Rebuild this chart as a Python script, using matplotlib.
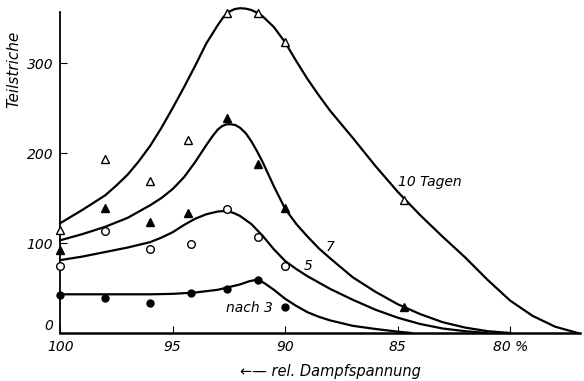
import numpy as np
import matplotlib
matplotlib.use("Agg")
import matplotlib.pyplot as plt

plt.rcParams["font.family"] = ["Liberation Sans Narrow", "DejaVu Sans"]
plt.rcParams["font.style"] = "italic"

# measured points (rel. vapour pressure in %, Teilstriche)
x_pts = [100, 98, 96, 94.3, 92.6, 91.2, 90.0, 84.7]
y_10 = [114, 193, 169, 214, 356, 356, 323, 148]
y_7 = [92, 139, 123, 133, 239, 188, 139, 29]
x_pts5 = [100, 98, 96, 94.2, 92.6, 91.2, 90.0]
y_5 = [74, 113, 93, 99, 138, 107, 74]
x_pts3 = [100, 98, 96, 94.2, 92.6, 91.2, 90.0]
y_3 = [42, 39, 33, 44, 49, 59, 29]

# hand-drawn curves through the points
cx_10 = [100, 99, 98, 97.5, 97, 96.5, 96, 95.5, 95, 94.5, 94, 93.5, 93, 92.75, 92.5, 92.25,
         92, 91.75, 91.5, 91.25, 91, 90.5, 90, 89.5, 89, 88.5, 88, 87, 86, 85, 84, 83,
         82, 81, 80, 79, 78, 77]
cy_10 = [122, 137, 153, 164, 176, 191, 208, 228, 250, 273, 297, 322, 342, 351, 357, 360,
         361, 360.5, 359, 356, 352, 340, 323, 302, 282, 264, 247, 217, 186, 157, 131, 107,
         84, 59, 36, 19, 7, 0]
cx_7 = [100, 99, 98, 97, 96, 95.5, 95, 94.5, 94, 93.5, 93.25, 93, 92.8, 92.6, 92.4, 92.2,
        92, 91.75, 91.5, 91.25, 91, 90.5, 90, 89.5, 89, 88.5, 88, 87, 86, 85, 84, 83,
        82, 81, 80]
cy_7 = [103, 110, 118, 128, 142, 150, 160, 173, 190, 209, 218, 226, 230, 232, 232, 231,
        228, 222, 213, 202, 190, 163, 138, 121, 107, 94, 83, 62, 46, 32, 21, 12,
        6, 2, 0]
cx_5 = [100, 99, 98, 97, 96, 95.5, 95, 94.5, 94, 93.5, 93, 92.75, 92.5, 92.25, 92, 91.5,
        91, 90.5, 90, 89.5, 89, 88, 87, 86, 85, 84, 83, 82, 81]
cy_5 = [81, 85, 90, 95, 101, 106, 112, 120, 127, 132, 135, 135.5, 135, 133, 130, 121,
        108, 93, 80, 71, 63, 49, 37, 26, 17, 10, 5, 2, 0]
cx_3 = [100, 99, 98, 97, 96, 95, 94, 93, 92.5, 92, 91.6, 91.3, 91.1, 90.9, 90.5,
        90, 89.5, 89, 88.5, 88, 87, 86, 85, 84.4]
cy_3 = [43, 43, 43, 43, 43, 43.5, 45, 48, 51, 54, 57.5, 59, 58, 55, 48,
        38, 30, 23, 18, 14, 8, 4.5, 1.5, 0]

fig = plt.figure(figsize=(5.84, 3.81), dpi=100)
ax = fig.add_axes([0.103, 0.126, 0.890, 0.843])

lw = 1.6
for cx, cy in [(cx_10, cy_10), (cx_7, cy_7), (cx_5, cy_5), (cx_3, cy_3)]:
    ax.plot(cx, cy, color="black", lw=lw, zorder=2, clip_on=False,
            solid_joinstyle="round")

ax.plot(x_pts, y_10, "^", ms=6, mfc="white", mec="black", mew=1.0, ls="none",
        zorder=3, clip_on=False)
ax.plot(x_pts, y_7, "^", ms=6, mfc="black", mec="black", ls="none", zorder=3, clip_on=False)
ax.plot(x_pts5, y_5, "o", ms=5.5, mfc="white", mec="black", mew=1.0, ls="none",
        zorder=3, clip_on=False)
ax.plot(x_pts3, y_3, "o", ms=5, mfc="black", mec="black", ls="none", zorder=3, clip_on=False)

ax.text(85.0, 168, "10 Tagen", fontsize=10, ha="left", va="center")
ax.text(88.0, 96, "7", fontsize=10, ha="center", va="center")
ax.text(89.0, 74, "5", fontsize=10, ha="center", va="center")
ax.text(91.6, 28, "nach 3", fontsize=10, ha="center", va="center")

ax.set_xlim(100, 76.9)
ax.set_ylim(0, 357)
ax.spines["top"].set_visible(False)
ax.spines["right"].set_visible(False)
ax.spines["left"].set_linewidth(1.3)
ax.spines["bottom"].set_linewidth(1.8)

ax.set_xticks([100, 95, 90, 85, 80])
ax.set_xticklabels(["100", "95", "90", "85", "80 %"], fontsize=10)
ax.set_yticks([0, 100, 200, 300])
ax.set_yticklabels(["0", "100", "200", "300"], fontsize=10)
ax.tick_params(direction="in", length=5, width=0.8)
ax.tick_params(axis="x", pad=5)
ax.tick_params(axis="y", pad=5)
# the corner "0" sits a little higher, away from the "100" below it
ax.get_yticklabels()[0].set_va("bottom")

ax.set_ylabel("Teilstriche", fontsize=11)
ax.yaxis.set_label_coords(-0.075, 0.82)
fig.text(0.565, 0.025, "\u2190\u2014 rel. Dampfspannung", fontsize=10.5,
         ha="center", va="center", style="italic")

fig.savefig("out.png", dpi=100)
